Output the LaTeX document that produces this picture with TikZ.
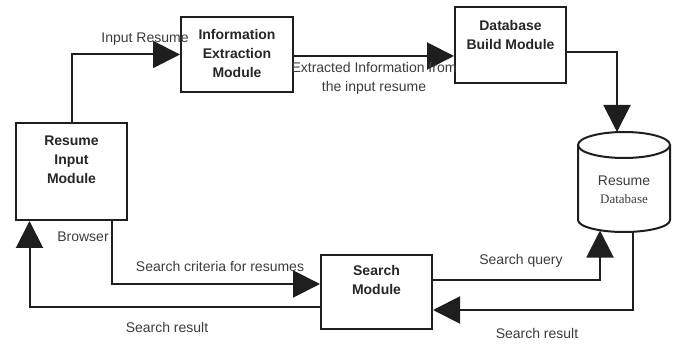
\documentclass[tikz,border=0pt]{standalone}
\usepackage{fontspec}
\setmainfont{Liberation Sans}
\newfontfamily\serifdb{Liberation Serif}
\usetikzlibrary{arrows.meta}
\definecolor{linec}{HTML}{1E1E1E}
\definecolor{labc}{HTML}{3C3C3C}
\tikzset{
  box/.style={draw=linec, line width=2pt, rectangle, inner sep=0pt},
  boxtext/.style={font=\fontsize{14}{19}\selectfont\bfseries, text=black!85, align=center, inner sep=0pt},
  lab/.style={font=\fontsize{14}{19}\selectfont, text=labc, align=center, inner sep=0pt},
  conn/.style={draw=linec, line width=2pt},
  arr/.style={conn, -{Triangle[length=27pt,width=27pt]}},
}
\begin{document}
\begin{tikzpicture}[x=1pt,y=-1pt]
\useasboundingbox (0,0) rectangle (676,344);
% boxes
\node[box, minimum width=111pt, minimum height=97pt] (rim) at (71.5,171.5) {};
\node[box, minimum width=112pt, minimum height=75pt] (ie) at (237,54.5) {};
\node[box, minimum width=111pt, minimum height=76pt] (dbb) at (510.5,45) {};
\node[box, minimum width=111pt, minimum height=74pt] (sm) at (376.5,292) {};
% box texts
\node[boxtext] (rimt) at (71.5,160) {Resume\\Input\\Module};
\node[boxtext] (iet) at (237,54) {Information\\Extraction\\Module};
\node[boxtext] (dbbt) at (510.5,35) {Database\\Build Module};
\node[boxtext] (smt) at (376.5,280) {Search\\Module};
% cylinder
\draw[conn, fill=white] (578,145) -- (578,220) arc[start angle=180, end angle=360, x radius=46pt, y radius=12pt] -- (670,145);
\draw[conn] (624,145) ellipse[x radius=46pt, y radius=13pt];
\node[lab, text=labc] (cyl1) at (624,181) {Resume};
\node[inner sep=0pt, font=\serifdb\fontsize{13}{16}\selectfont, text=labc] (cyl2) at (624,199) {Database};
\coordinate (cyltop) at (617,132);
\coordinate (cylq) at (600,230.5);
\coordinate (cylr) at (633,231.5);
% connectors
\draw[arr] (rim.north) |- (ie.west);
\draw[arr] ([yshift=-1.5pt]ie.east) -- ([yshift=-1.5pt]ie.east -| dbb.west);
\draw[arr] ([yshift=-7pt]dbb.east) -| (cyltop);
\draw[arr] ([xshift=40.5pt]rim.south) |- ([yshift=8pt]sm.west);
\draw[arr] ([yshift=-15pt]sm.west) -| ([xshift=-42pt]rim.south);
\draw[arr] ([yshift=12pt]sm.east) -| (cylq);
\draw[arr] (cylr) |- ([yshift=-18pt]sm.east);
% labels
\node[lab] (l1) at (145,39) {Input Resume};
\node[lab] (l2) at (374,78) {Extracted Information from\\the input resume};
\node[lab] (l3) at (83,237) {Browser};
\node[lab] (l4) at (220,266) {Search criteria for resumes};
\node[lab] (l5) at (167,327) {Search result};
\node[lab] (l6) at (521,261) {Search query};
\node[lab] (l7) at (537,333) {Search result};
\end{tikzpicture}
\end{document}
